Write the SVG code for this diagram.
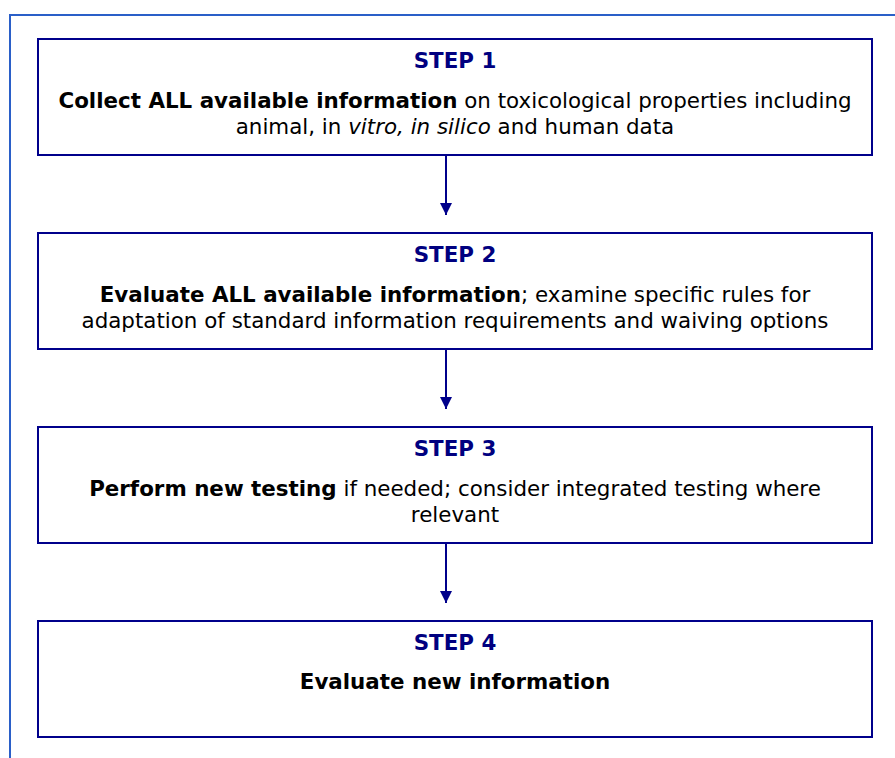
<svg xmlns="http://www.w3.org/2000/svg" width="895" height="758" viewBox="0 0 895 758">
<defs>
<style>
.frame{fill:none;stroke:#2a5fc8;stroke-width:2}
.box{fill:#fff;stroke:#00008b;stroke-width:2}
.t{font-family:"DejaVu Sans",Verdana,sans-serif;font-size:21.4px;fill:#000;text-anchor:middle}
.step{font-weight:bold;fill:#000080}
.b{font-weight:bold}
.i{font-style:italic}
.conn{stroke:#00008b;stroke-width:2;fill:none}
</style>
<marker id="ah" viewBox="0 0 12 13" refX="12" refY="6" markerWidth="12" markerHeight="13" markerUnits="userSpaceOnUse" orient="auto">
<path d="M0,0 L12,6 L0,12 z" fill="#00008b"/>
</marker>
</defs>
<rect width="895" height="758" fill="#fff"/>
<path class="frame" d="M10,758 V15 H895"/>
<g id="connectors">
<line class="conn" x1="446" y1="155" x2="446" y2="215" marker-end="url(#ah)"/>
<line class="conn" x1="446" y1="349" x2="446" y2="409" marker-end="url(#ah)"/>
<line class="conn" x1="446" y1="543" x2="446" y2="603" marker-end="url(#ah)"/>
</g>
<g id="step1">
<rect class="box" x="38" y="39" width="834" height="116"/>
<text class="t step" x="455" y="68">STEP 1</text>
<text class="t" x="455" y="108"><tspan class="b">Collect ALL available information</tspan> on toxicological properties including</text>
<text class="t" x="455" y="134">animal, in <tspan class="i">vitro, in silico</tspan> and human data</text>
</g>
<g id="step2">
<rect class="box" x="38" y="233" width="834" height="116"/>
<text class="t step" x="455" y="262">STEP 2</text>
<text class="t" x="455" y="302"><tspan class="b">Evaluate ALL available information</tspan>; examine specific rules for</text>
<text class="t" x="455" y="328">adaptation of standard information requirements and waiving options</text>
</g>
<g id="step3">
<rect class="box" x="38" y="427" width="834" height="116"/>
<text class="t step" x="455" y="456">STEP 3</text>
<text class="t" x="455" y="496"><tspan class="b">Perform new testing</tspan> if needed; consider integrated testing where</text>
<text class="t" x="455" y="522">relevant</text>
</g>
<g id="step4">
<rect class="box" x="38" y="621" width="834" height="116"/>
<text class="t step" x="455" y="650">STEP 4</text>
<text class="t b" x="455" y="689">Evaluate new information</text>
</g>
</svg>
